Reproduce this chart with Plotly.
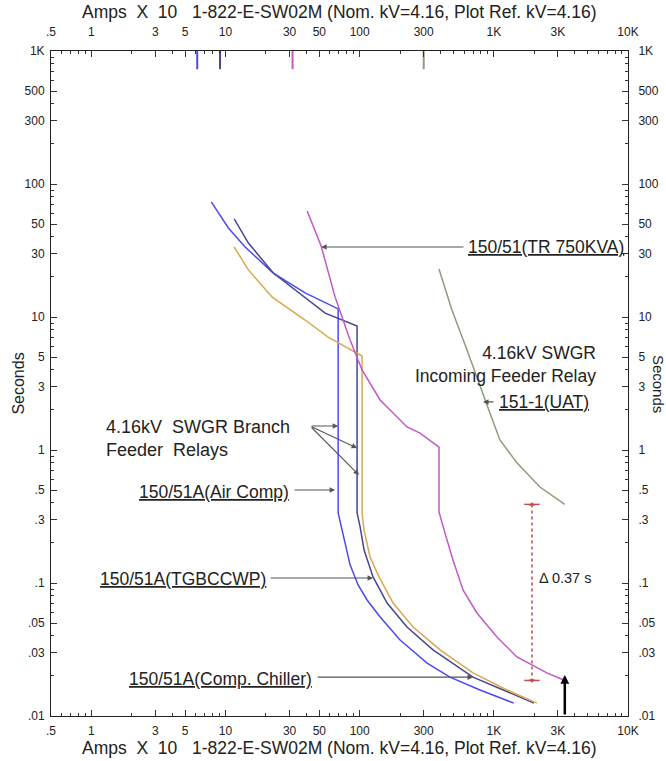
import math
import plotly.graph_objects as go

# ---------------- data (Amps x10, seconds) ----------------
air_comp_amps = [7.83, 10.5, 14.0, 22.7, 39.2, 69.1, 69.1, 76.5, 84.8, 97.3, 113.5, 142, 200, 318, 471, 788, 1410]
air_comp_sec = [73.3, 46.7, 33.6, 21.4, 15.2, 11.5, 0.336, 0.211, 0.137, 0.0966, 0.0745, 0.0555, 0.0373, 0.025, 0.0196, 0.0157, 0.0125]

tgbccwp_amps = [11.6, 14.8, 22.7, 33.0, 55.3, 95.6, 95.6, 100.7, 107.8, 125.8, 160, 225, 352, 699, 1055, 1990]
tgbccwp_sec = [54.6, 36.0, 21.4, 16.0, 10.7, 8.56, 0.336, 0.264, 0.177, 0.111, 0.0707, 0.0467, 0.0314, 0.0196, 0.0165, 0.0125]

chiller_amps = [11.6, 14.8, 22.3, 39.2, 58.2, 94.0, 104.2, 104.2, 107.8, 119.5, 137.1, 177.3, 250, 397, 699, 1252, 2094]
chiller_sec = [33.6, 22.6, 14.1, 9.49, 7.07, 5.36, 5.09, 0.336, 0.250, 0.157, 0.115, 0.0707, 0.0467, 0.0314, 0.0211, 0.0157, 0.0125]

tr_amps = [40.6, 51.6, 65.6, 75.2, 84.8, 104.2, 141.9, 225.4, 281.7, 390, 390, 432, 496, 589, 748, 1055, 1486, 1922, 2486, 3380]
tr_sec = [62.7, 34.2, 14.1, 9.49, 6.71, 4.0, 2.38, 1.49, 1.34, 1.05, 0.342, 0.238, 0.149, 0.0886, 0.0595, 0.0393, 0.0278, 0.0242, 0.0211, 0.0185]

uat_amps = [390, 487, 631, 816, 935, 1110, 1486, 2204, 3380]
uat_sec = [22.95, 11.3, 5.65, 2.83, 1.9, 1.19, 0.80, 0.527, 0.39]

# pickup marks on the top border
pickup_amps = [6.15, 9.1, 31.6, 300]
pickup_top = 1000
pickup_bottom = 730

# coordination interval
delta_amps = 1923
delta_sec = [0.39, 0.0185]
fault_amps = 3380
fault_sec = [0.01, 0.0203]

x_tickvals = [0.5, 1, 3, 5, 10, 30, 50, 100, 300, 1000, 3000, 10000]
x_ticktext = [".5", "1", "3", "5", "10", "30", "50", "100", "300", "1K", "3K", "10K"]
y_tickvals = [0.01, 0.03, 0.05, 0.1, 0.3, 0.5, 1, 3, 5, 10, 30, 50, 100, 300, 500, 1000]
y_ticktext = [".01", ".03", ".05", ".1", ".3", ".5", "1", "3", "5", "10", "30", "50", "100", "300", "500", "1K"]

BLUE = "#4b4bf2"
NAVY = "#47478f"
GOLD = "#d9a94c"
MAGENTA = "#c357c6"
OLIVE = "#8e9c7a"
RED = "#c64a4a"
TXT = "#222222"
FONT = "Liberation Sans, Arial, sans-serif"

fig = go.Figure()

curves = [
    (air_comp_amps, air_comp_sec, BLUE),
    (tgbccwp_amps, tgbccwp_sec, NAVY),
    (chiller_amps, chiller_sec, GOLD),
    (tr_amps, tr_sec, MAGENTA),
    (uat_amps, uat_sec, OLIVE),
]
for xs, ys, c in curves:
    fig.add_trace(go.Scatter(x=xs, y=ys, mode="lines", line=dict(color=c, width=1.5),
                             hoverinfo="skip", showlegend=False))

for a, c in zip(pickup_amps, [BLUE, NAVY, MAGENTA, OLIVE]):
    fig.add_trace(go.Scatter(x=[a, a], y=[pickup_top, pickup_bottom], mode="lines",
                             line=dict(color=c, width=2), hoverinfo="skip", showlegend=False))

# delta bracket
fig.add_trace(go.Scatter(x=[delta_amps, delta_amps], y=delta_sec, mode="lines",
                         line=dict(color=RED, width=1.5, dash="dot"),
                         hoverinfo="skip", showlegend=False))
fig.add_trace(go.Scatter(x=[delta_amps, delta_amps], y=delta_sec, mode="markers",
                         marker=dict(symbol="line-ew-open", size=11, color=RED,
                                     line=dict(color=RED, width=1.5)),
                         hoverinfo="skip", showlegend=False))
fig.add_trace(go.Scatter(x=[delta_amps, delta_amps], y=delta_sec, mode="markers",
                         marker=dict(symbol=["triangle-up", "triangle-down"], size=5, color=RED),
                         hoverinfo="skip", showlegend=False))

# dummy trace for the mirrored axes
fig.add_trace(go.Scatter(x=[1], y=[1], xaxis="x2", yaxis="y2", mode="markers",
                         marker=dict(opacity=0), hoverinfo="skip", showlegend=False))

L = math.log10
ann = []


def arrow(hx, hy, tx, ty, color="#555555", width=1.1, head=2, size=1.0):
    ann.append(dict(x=L(hx), y=L(hy), ax=L(tx), ay=L(ty), xref="x", yref="y",
                    axref="x", ayref="y", text="", showarrow=True, arrowhead=head,
                    arrowsize=size, arrowwidth=width, arrowcolor=color))


def label(text, x, y, xanchor, align="left", size=17.5):
    ann.append(dict(x=L(x), y=L(y), xref="x", yref="y", text=text, showarrow=False,
                    xanchor=xanchor, yanchor="middle", align=align,
                    font=dict(family=FONT, size=size, color=TXT)))


# 150/51(TR 750KVA)
arrow(51.6, 33.6, 609, 33.6)
label("<u>150/51(TR 750KVA)</u>", 620, 33.6, "left")
# incoming feeder
label("4.16kV SWGR<br>Incoming Feeder Relay", 5957, 4.36, "right", align="right")
arrow(830, 2.30, 1019, 2.30)
label("<u>151-1(UAT)</u>", 1055, 2.30, "left")
# branch feeders
label("4.16kV\u00a0 SWGR Branch<br>Feeder\u00a0 Relays", 1.25, 1.23, "left", size=18)
arrow(69.1, 1.515, 42.7, 1.515)
arrow(95.6, 1.035, 42.7, 1.515)
arrow(98.9, 0.648, 42.7, 1.515)
arrow(65.6, 0.5, 31.9, 0.5)
label("<u>150/51A(Air Comp)</u>", 30.8, 0.483, "right")
arrow(125.8, 0.109, 21.2, 0.109)
label("<u>150/51A(TGBCCWP)</u>", 1.127, 0.107, "left")
arrow(699, 0.0196, 47.4, 0.0196)
label("<u>150/51A(Comp. Chiller)</u>", 1.853, 0.019, "left")
# delta text
label("\u0394 0.37 s", 2094, 0.1096, "left", size=14.5)
# fault arrow
arrow(fault_amps, fault_sec[1], fault_amps, fault_sec[0], color="#000000", width=2.5, head=2, size=0.7)

title = "Amps\u00a0 X\u00a0 10\u00a0\u00a0 1-822-E-SW02M (Nom. kV=4.16, Plot Ref. kV=4.16)"
for yy in (1.0586, -0.0481):
    ann.append(dict(x=0.5, y=yy, xref="paper", yref="paper", text=title, showarrow=False,
                    xanchor="center", yanchor="middle",
                    font=dict(family=FONT, size=17.5, color=TXT)))
ann.append(dict(x=-0.057, y=0.5, xref="paper", yref="paper", text="Seconds", showarrow=False,
                textangle=-90, xanchor="center", yanchor="middle",
                font=dict(family=FONT, size=16, color=TXT)))
ann.append(dict(x=1.053, y=0.5, xref="paper", yref="paper", text="Seconds", showarrow=False,
                textangle=90, xanchor="center", yanchor="middle",
                font=dict(family=FONT, size=15, color=TXT)))


def minor_vals(lo_exp, hi_exp):
    vals = []
    for e in range(lo_exp, hi_exp):
        for m in range(1, 10):
            vals.append(m * 10 ** e)
    return vals


x_minor = [v for v in minor_vals(-1, 4) if 0.5 <= v <= 10000]
y_minor = [v for v in minor_vals(-2, 3) if 0.01 <= v <= 1000]

tickfont = dict(family=FONT, size=12, color=TXT)
xcommon = dict(type="log", range=[L(0.5), 4], tickvals=x_tickvals, ticktext=x_ticktext,
               ticks="inside", ticklen=6, tickcolor="#333", tickwidth=1,
               minor=dict(tickvals=x_minor, ticks="inside", ticklen=3, tickcolor="#333"),
               showgrid=False, zeroline=False, showline=True, linecolor="#222", linewidth=1,
               tickfont=tickfont, fixedrange=True, automargin=False)
ycommon = dict(type="log", range=[-2, 3], tickvals=y_tickvals, ticktext=y_ticktext,
               ticks="inside", ticklen=6, tickcolor="#333", tickwidth=1,
               minor=dict(tickvals=y_minor, ticks="inside", ticklen=3, tickcolor="#333"),
               showgrid=False, zeroline=False, showline=True, linecolor="#222", linewidth=1,
               tickfont=tickfont, fixedrange=True, automargin=False)

fig.update_layout(
    width=666, height=761,
    margin=dict(l=51, r=38, t=51, b=45, autoexpand=False),
    paper_bgcolor="white", plot_bgcolor="white",
    showlegend=False,
    xaxis=dict(**xcommon, side="bottom", anchor="y", ticklabelstandoff=4),
    xaxis2=dict(**xcommon, side="top", overlaying="x", anchor="y", ticklabelstandoff=9),
    yaxis=dict(**ycommon, side="left", anchor="x", ticklabelstandoff=3),
    yaxis2=dict(**ycommon, side="right", overlaying="y", anchor="x", ticklabelstandoff=7),
    annotations=ann,
    font=dict(family=FONT, color=TXT),
)

# remove the default 8px page margin so the figure fills the window exactly
fig.write_html("out.html", config={"displayModeBar": False},
               post_script="document.body.style.margin='0px';")
